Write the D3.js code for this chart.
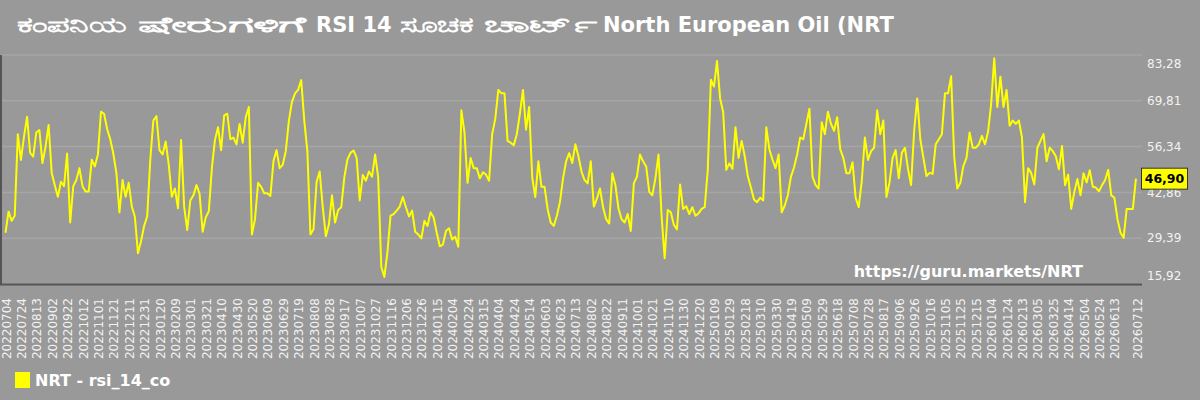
<!DOCTYPE html>
<html><head><meta charset="utf-8">
<script src="https://cdn.jsdelivr.net/npm/d3@7"></script>
<style>html,body{margin:0;padding:0;background:#999999;}svg{display:block;}</style>
</head><body>
<svg id="chart" width="1200" height="400"></svg>
<script>
const titleWords = ["ಕಂಪನಿಯ", "ಷೇರುಗಳಿಗೆ", "RSI 14", "ಸೂಚಕ", "ಚಾರ್ಟ್", "North European Oil (NRT"];
const legendText = "NRT - rsi_14_co";
const watermark = "https://guru.markets/NRT";
const startDate = "20220704";
const endDate = "20260712";
const stepDays = 4;
const yTicks = [15.92, 29.39, 42.86, 56.34, 69.81, 83.28];
const xTickLabels = ["20220704","20220724","20220813","20220902","20220922","20221012","20221101","20221121","20221211","20221231",
"20230120","20230209","20230301","20230321","20230410","20230430","20230520","20230609","20230629","20230719",
"20230808","20230828","20230917","20231007","20231027","20231116","20231206","20231226","20240115","20240204",
"20240224","20240315","20240404","20240424","20240514","20240603","20240623","20240713","20240802","20240822",
"20240911","20241001","20241021","20241110","20241130","20241220","20250109","20250129","20250218","20250310",
"20250330","20250419","20250509","20250529","20250618","20250708","20250728","20250817","20250906","20250926",
"20251016","20251105","20251125","20251215","20260104","20260124","20260213","20260305","20260325","20260414",
"20260504","20260524","20260613","20260712"];
const rsiValues = [
31.0,37.2,34.5,36.0,60.0,52.4,59.2,65.1,54.5,53.4,
60.5,61.2,51.5,56.3,62.7,48.6,45.0,41.6,46.0,44.7,
54.3,34.0,44.7,46.5,50.0,44.7,43.1,43.1,52.5,50.5,
54.0,66.6,66.0,61.5,58.5,54.3,48.6,37.0,46.5,41.6,
45.7,38.7,35.7,25.0,28.5,33.0,35.8,52.4,64.0,65.3,
55.3,54.0,57.8,51.0,41.6,44.0,38.2,58.3,38.7,31.8,
40.5,42.0,45.0,42.5,31.3,35.5,37.3,50.0,58.3,62.0,
55.3,65.5,66.0,58.5,59.0,57.0,63.0,57.5,65.0,68.0,
30.5,35.0,45.7,44.5,42.6,42.6,41.8,52.0,55.3,50.0,
51.0,55.0,64.0,69.5,72.0,73.0,75.9,64.0,55.0,30.5,
32.0,46.0,49.0,38.5,30.0,33.5,42.0,34.0,37.7,38.5,
47.3,52.5,54.5,55.2,53.0,40.5,48.0,46.3,49.0,47.5,
54.0,47.3,21.0,18.0,25.3,36.0,36.5,37.5,38.7,41.5,
38.5,35.8,37.5,31.3,30.5,29.3,34.5,33.0,37.0,35.5,
31.0,27.0,27.5,31.5,32.3,29.0,29.8,26.9,67.0,60.5,
45.7,53.0,50.0,50.0,47.0,48.8,48.1,46.3,60.0,64.5,
73.0,72.0,72.0,58.0,57.5,56.7,60.0,66.0,73.0,61.3,
68.0,47.3,41.5,52.0,44.5,44.5,38.0,34.0,33.0,36.0,
40.0,47.0,52.0,54.4,51.5,57.0,53.5,49.0,46.5,45.5,
52.0,38.7,41.0,44.0,38.5,35.0,33.7,48.5,45.0,38.2,
35.0,34.0,36.5,31.5,45.5,47.5,54.0,52.0,50.5,43.0,
42.0,47.0,54.0,36.0,23.5,37.7,37.0,33.3,32.0,45.2,
38.0,38.8,36.5,38.5,36.0,36.7,38.0,38.5,49.5,76.0,
74.0,81.5,70.5,66.5,49.5,51.4,49.8,62.0,53.0,58.0,
53.5,47.6,44.3,40.8,40.0,41.3,40.5,62.0,55.5,52.5,
50.0,54.0,37.0,39.0,42.1,47.5,50.2,54.0,59.0,58.5,
63.0,67.5,47.5,45.0,44.0,63.5,60.0,66.6,63.0,61.0,
65.0,55.5,53.0,48.5,48.5,51.7,41.3,38.5,46.3,59.0,
52.4,55.0,56.0,67.0,60.0,64.0,41.5,45.8,53.0,55.3,
47.0,54.5,56.0,49.8,45.0,61.0,70.5,58.5,53.0,47.7,
48.6,48.3,57.0,58.5,60.0,72.0,72.0,77.0,53.4,44.0,
45.7,50.7,53.0,60.5,56.0,56.0,57.0,59.5,57.0,60.7,
69.0,82.3,68.0,76.9,68.0,73.0,62.5,64.0,63.0,64.0,
59.0,40.0,50.0,48.6,45.2,56.0,58.0,60.0,52.0,56.0,
55.0,53.5,49.7,56.5,45.0,48.1,38.0,43.0,46.8,42.0,
48.5,45.8,49.4,44.5,44.3,43.2,45.0,46.5,49.5,42.0,
41.3,35.0,31.0,29.5,38.0,38.0,38.0,46.9];

const parse = d3.utcParse("%Y%m%d");
const t0 = parse(startDate);
const data = rsiValues.map((v, i) => ({date: d3.utcDay.offset(t0, i * stepDays), value: v}));
const lastValue = rsiValues[rsiValues.length - 1];

const fmt = d3.formatLocale({decimal: ",", thousands: ".", grouping: [3], currency: ["", ""]}).format(".2f");

const svg = d3.select("#chart");
const font = "DejaVu Sans";
const plotLeft = 0, plotRight = 1142, plotTop = 55, plotBottom = 284;

const x = d3.scaleUtc().domain([parse(startDate), parse(endDate)]).range([5.5, 1136.7]);
const y = d3.scaleLinear().domain([yTicks[0], yTicks[yTicks.length - 1]]).range([plotBottom, plotTop]);

svg.append("rect").attr("width", 1200).attr("height", 400).attr("fill", "#999999");

// grid
svg.append("g").selectAll("line").data(yTicks).join("line")
  .attr("x1", plotLeft).attr("x2", plotRight)
  .attr("y1", d => y(d)).attr("y2", d => y(d))
  .attr("stroke", "#a6a6a6").attr("stroke-width", 1.5);

// axes lines
svg.append("line").attr("x1", 1).attr("x2", 1).attr("y1", plotTop).attr("y2", plotBottom)
  .attr("stroke", "#555555").attr("stroke-width", 2);
svg.append("line").attr("x1", plotLeft).attr("x2", plotRight).attr("y1", plotBottom + 0.5).attr("y2", plotBottom + 0.5)
  .attr("stroke", "#555555").attr("stroke-width", 2);

// y labels
svg.append("g").selectAll("text").data(yTicks).join("text")
  .attr("x", 1147)
  .attr("y", (d, i) => {
    let yy = y(d);
    if (i === yTicks.length - 1) yy += 9;
    if (i === 0) yy -= 8;
    return yy;
  })
  .attr("dy", "0.35em")
  .attr("fill", "#f2f2f2").attr("font-family", font).attr("font-size", 12)
  .text(d => fmt(d));

// x labels
svg.append("g").selectAll("text").data(xTickLabels).join("text")
  .attr("transform", d => `translate(${x(parse(d))},298) rotate(-90)`)
  .attr("text-anchor", "end").attr("dy", "0.42em")
  .attr("fill", "#f2f2f2").attr("font-family", font).attr("font-size", 12)
  .text(d => d);

// line
const line = d3.line().x(d => x(d.date)).y(d => y(d.value));
svg.append("path").datum(data).attr("d", line)
  .attr("fill", "none").attr("stroke", "#ffff00").attr("stroke-width", 2).attr("stroke-linejoin", "round");

// watermark
svg.append("text").attr("x", 1083).attr("y", 277).attr("text-anchor", "end")
  .attr("fill", "#ffffff").attr("font-family", font).attr("font-weight", "bold").attr("font-size", 16)
  .text(watermark);

// last value label
const ly = y(lastValue);
svg.append("rect").attr("x", 1141.5).attr("y", ly - 10.5).attr("width", 46).attr("height", 21)
  .attr("fill", "#ffff00").attr("stroke", "#333333").attr("stroke-width", 1);
svg.append("text").attr("x", 1164.5).attr("y", ly).attr("dy", "0.36em").attr("text-anchor", "middle")
  .attr("fill", "#000000").attr("font-family", font).attr("font-weight", "bold").attr("font-size", 12.5)
  .text(fmt(lastValue));

// title: each word placed in its own slot [x, width]
const titleSlots = [[17, 109], [138, 168], [316, null], [400, 73], [484, 113], [603, null]];
const titleG = svg.append("g").attr("fill", "#ffffff").attr("font-family", font)
  .attr("font-weight", "bold").attr("font-size", 21);
titleWords.forEach((w, i) => {
  const t = titleG.append("text").attr("x", titleSlots[i][0]).attr("y", 32).text(w);
  if (titleSlots[i][1]) t.attr("textLength", titleSlots[i][1]).attr("lengthAdjust", "spacingAndGlyphs");
});

// legend
svg.append("rect").attr("x", 15).attr("y", 372).attr("width", 15).attr("height", 16).attr("fill", "#ffff00");
svg.append("text").attr("x", 35).attr("y", 386)
  .attr("fill", "#ffffff").attr("font-family", font).attr("font-weight", "bold").attr("font-size", 16)
  .text(legendText);
</script>
</body></html>
